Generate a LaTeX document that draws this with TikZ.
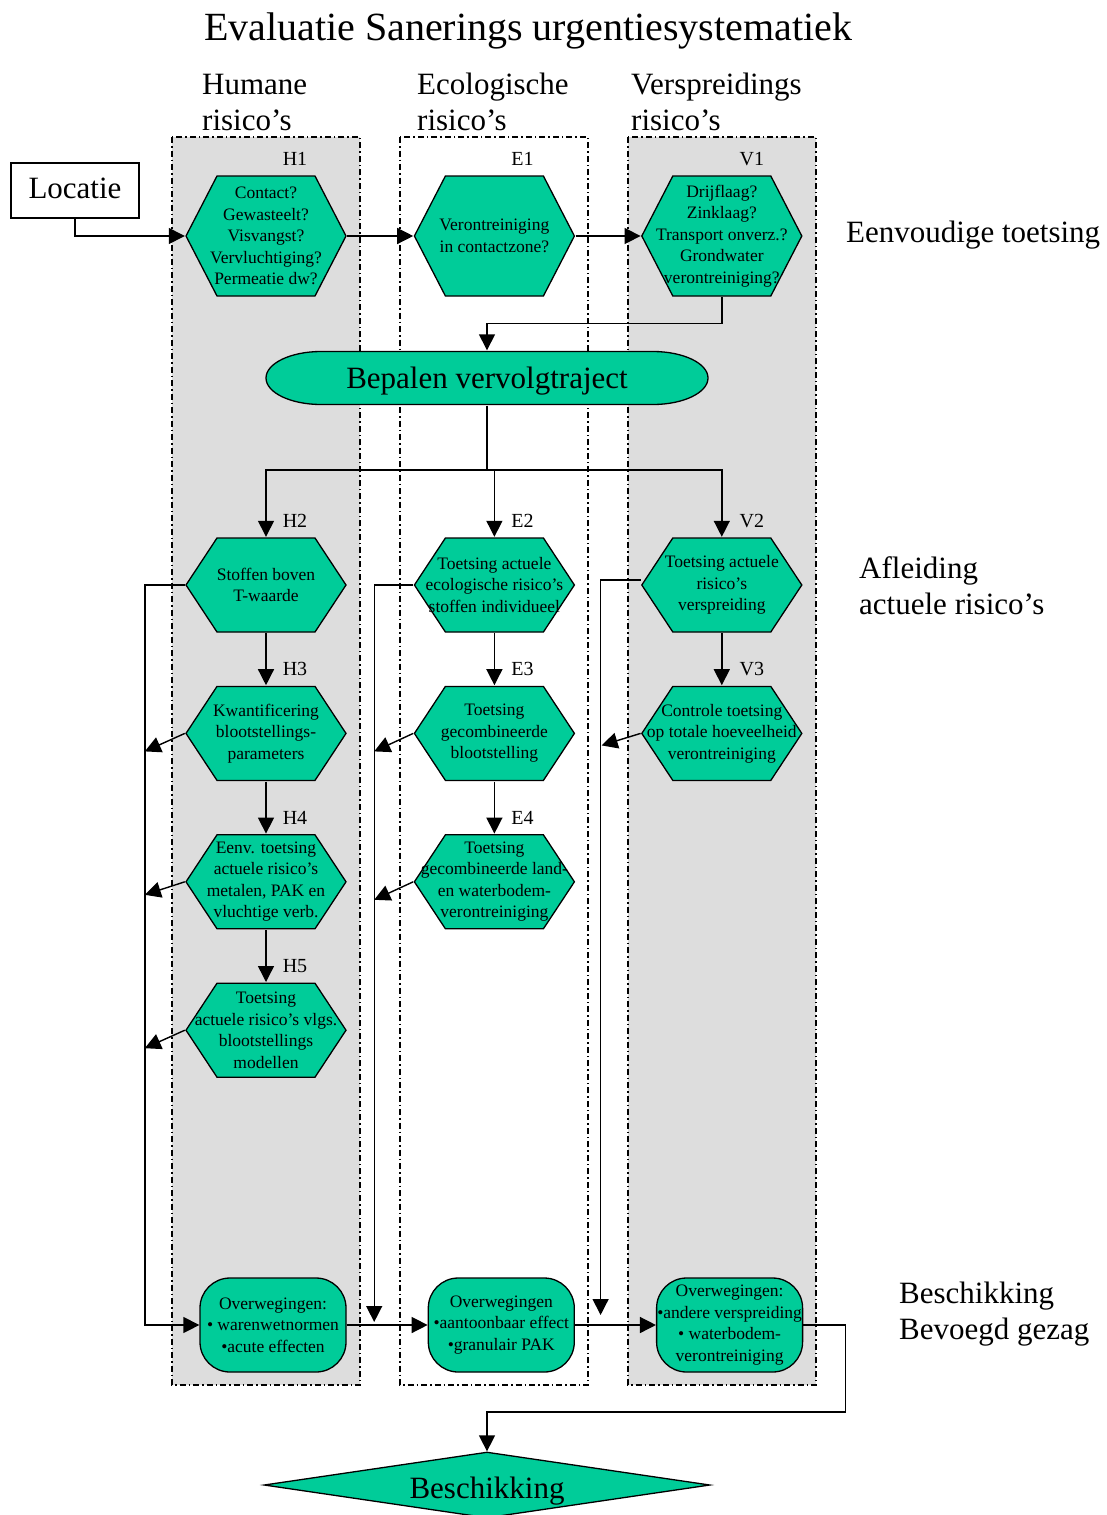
\documentclass[tikz,border=0pt]{standalone}
\usepackage{fontspec}
\setmainfont{Liberation Serif}
\usetikzlibrary{shapes,arrows.meta,positioning,calc}

\definecolor{riskgreen}{RGB}{0,204,153}
\definecolor{lanegrey}{RGB}{221,221,221}

\newcommand{\boxfont}{\fontsize{17.5pt}{21.5pt}\selectfont}
\newcommand{\bigfont}{\fontsize{31pt}{36pt}\selectfont}

\begin{document}
\begin{tikzpicture}[x=1pt, y=-1pt, >={Triangle[length=16pt,width=16pt]},
    conn/.style={->, line width=1.4pt},
    line/.style={line width=1.4pt},
    lanebox/.style={line width=1.3pt, dash pattern=on 6pt off 3pt on 1.5pt off 3pt},
    hexnode/.style={rectangle, minimum width=162pt, minimum height=96pt, inner sep=0pt, align=center, font=\boxfont,
        path picture={\draw[line width=1.3pt, fill=riskgreen]
            ([xshift=1pt]path picture bounding box.west) --
            ([xshift=32pt,yshift=-1pt]path picture bounding box.north west) --
            ([xshift=-32pt,yshift=-1pt]path picture bounding box.north east) --
            ([xshift=-1pt]path picture bounding box.east) --
            ([xshift=-32pt,yshift=1pt]path picture bounding box.south east) --
            ([xshift=32pt,yshift=1pt]path picture bounding box.south west) -- cycle;}},
    ovbox/.style={rectangle, rounded corners=30pt, draw, fill=riskgreen, line width=1.3pt, minimum width=146pt, minimum height=94pt, inner sep=0pt, align=center, font=\boxfont},
    idlabel/.style={font=\fontsize{20pt}{24pt}\selectfont, inner sep=0pt},
    sidetext/.style={font=\bigfont, align=left, inner sep=0pt, anchor=west}
]
    \useasboundingbox (0,0) rectangle (1106,1515);

    % Lanes
    \draw[lanebox, fill=lanegrey] (172,137) rectangle (360,1385);
    \draw[lanebox, fill=white] (400,137) rectangle (588,1385);
    \draw[lanebox, fill=lanegrey] (628,137) rectangle (816,1385);

    % Titles
    \node (title) [font=\fontsize{40pt}{46pt}\selectfont, inner sep=0pt, anchor=base] at (528,40) {Evaluatie Sanerings urgentiesystematiek};
    \node (hdrH) [sidetext] at (202,103) {Humane\\risico’s};
    \node (hdrE) [sidetext] at (417,102) {Ecologische\\risico’s};
    \node (hdrV) [sidetext] at (631,102) {Verspreidings\\risico’s};
    \node (lvl1) [sidetext] at (846,235) {Eenvoudige toetsing};
    \node (lvl2) [sidetext] at (859,586) {Afleiding\\actuele risico’s};
    \node (lvl3) [sidetext] at (899,1314) {Beschikking\\Bevoegd gezag};

    % Eenvoudige toetsing
    \node (loc) [draw, line width=1.3pt, minimum width=128pt, minimum height=55pt, inner sep=0pt, text height=21.5pt, text depth=5pt, font=\bigfont] at (75,190.5) {Locatie};
    \node (h1) [hexnode, minimum height=122pt] at (266,236) {Contact?\\Gewasteelt?\\Visvangst?\\Vervluchtiging?\\Permeatie dw?};
    \node (e1) [hexnode, minimum height=122pt, right=66pt of h1] {Verontreiniging\\in contactzone?};
    \node (v1) [hexnode, minimum height=122pt, right=65pt of e1] {Drijflaag?\\Zinklaag?\\Transport onverz.?\\Grondwater\\verontreiniging?};

    \node (bep) [rectangle, minimum width=444pt, minimum height=55pt, inner sep=0pt, text height=27.5pt, text depth=7pt, font=\bigfont,
        path picture={\draw[line width=1.3pt, fill=riskgreen]
            ([xshift=56pt,yshift=-1pt]path picture bounding box.north west) --
            ([xshift=-56pt,yshift=-1pt]path picture bounding box.north east)
            arc[start angle=90, end angle=-90, x radius=55pt, y radius=26.5pt] --
            ([xshift=56pt,yshift=1pt]path picture bounding box.south west)
            arc[start angle=270, end angle=90, x radius=55pt, y radius=26.5pt] -- cycle;}]
        at (487,378) {Bepalen vervolgtraject};

    % Afleiding actuele risico's
    \node (h2) [hexnode] at (266,585) {Stoffen boven\\T-waarde};
    \node (h3) [hexnode, below=52pt of h2] {Kwantificering\\blootstellings-\\parameters};
    \node (h4) [hexnode, below=52pt of h3] {Eenv. toetsing\\actuele risico’s\\metalen, PAK en\\vluchtige verb.};
    \node (h5) [hexnode, below=52pt of h4] {Toetsing\\actuele risico’s vlgs.\\blootstellings\\modellen};

    \node (e2) [hexnode, right=66pt of h2] {Toetsing actuele\\ecologische risico’s\\stoffen individueel};
    \node (e3) [hexnode, below=52pt of e2] {Toetsing\\gecombineerde\\blootstelling};
    \node (e4) [hexnode, below=52pt of e3] {Toetsing\\gecombineerde land-\\en waterbodem-\\verontreiniging};

    \node (v2) [hexnode, right=65pt of e2] {Toetsing actuele\\risico’s\\verspreiding};
    \node (v3) [hexnode, below=52pt of v2] {Controle toetsing\\op totale hoeveelheid\\verontreiniging};

    % Step labels
    \node (lh1) [idlabel] at ([xshift=29pt,yshift=16pt]h1.north) {H1};
    \node (le1) [idlabel] at ([xshift=28pt,yshift=16pt]e1.north) {E1};
    \node (lv1) [idlabel] at ([xshift=30pt,yshift=16pt]v1.north) {V1};
    \node (lh2) [idlabel] at ([xshift=29pt,yshift=16pt]h2.north) {H2};
    \node (lh3) [idlabel] at ([xshift=29pt,yshift=16pt]h3.north) {H3};
    \node (lh4) [idlabel] at ([xshift=29pt,yshift=16pt]h4.north) {H4};
    \node (lh5) [idlabel] at ([xshift=29pt,yshift=16pt]h5.north) {H5};
    \node (le2) [idlabel] at ([xshift=28pt,yshift=16pt]e2.north) {E2};
    \node (le3) [idlabel] at ([xshift=28pt,yshift=16pt]e3.north) {E3};
    \node (le4) [idlabel] at ([xshift=28pt,yshift=16pt]e4.north) {E4};
    \node (lv2) [idlabel] at ([xshift=30pt,yshift=16pt]v2.north) {V2};
    \node (lv3) [idlabel] at ([xshift=30pt,yshift=16pt]v3.north) {V3};

    % Beschikking
    \node (hov) [ovbox] at (273,1325) {Overwegingen:\\• warenwetnormen\\•acute effecten};
    \node (eov) [ovbox, right=81pt of hov] {Overwegingen\\•aantoonbaar effect\\•granulair PAK};
    \node (vov) [ovbox, right=81pt of eov] {Overwegingen:\\•andere verspreiding\\• waterbodem-\\verontreiniging};

    \node (besch) [diamond, draw, fill=riskgreen, line width=1.3pt, aspect=6.7, minimum width=446pt, minimum height=66pt, inner sep=0pt, text height=33pt, text depth=7pt, font=\bigfont] at (487,1485) {Beschikking};

    % Edges
    \draw[conn] (loc.south) |- (h1.west);
    \draw[conn] (h1.east) -- (e1.west);
    \draw[conn] (e1.east) -- (v1.west);
    \draw[conn] (v1.south) -- ++(0,26) -| (bep.north);

    \coordinate (split) at (bep.south |- 0,470);
    \draw[line] (bep.south) -- (split);
    \draw[conn] (split) -| (h2.north);
    \draw[conn] (split) -| (v2.north);
    \draw[conn] (e2.north |- split) -- (e2.north);

    \draw[conn] (h2) -- (h3);
    \draw[conn] (h3) -- (h4);
    \draw[conn] (h4) -- (h5);
    \draw[conn] (e2) -- (e3);
    \draw[conn] (e3) -- (e4);
    \draw[conn] (v2) -- (v3);

    % Side lines
    \draw[conn] (h2.west) -- ++(-40,0) |- (hov.west);
    \draw[conn] (h3.west) -- ++(-40,18);
    \draw[conn] (h4.west) -- ++(-40,13);
    \draw[conn] (h5.west) -- ++(-40,18);

    \draw[conn] (e2.west) -- ++(-39,0) coordinate (ebus) -- ([yshift=3pt]ebus |- hov.east);
    \draw[conn] (e3.west) -- ++(-39,18);
    \draw[conn] (e4.west) -- ++(-39,18);

    \draw[conn] ([yshift=5pt]v2.west) -- ++(-40,0) coordinate (vbus) -- ([yshift=10pt]vbus |- eov.east);
    \draw[conn] (v3.west) -- ++(-39,12);

    \draw[conn] (hov.east) -- (eov.west);
    \draw[conn] (eov.east) -- (vov.west);
    \draw[conn] (vov.east) -- ++(42,0) -- ++(0,87) -| (besch.north);

\end{tikzpicture}
\end{document}
